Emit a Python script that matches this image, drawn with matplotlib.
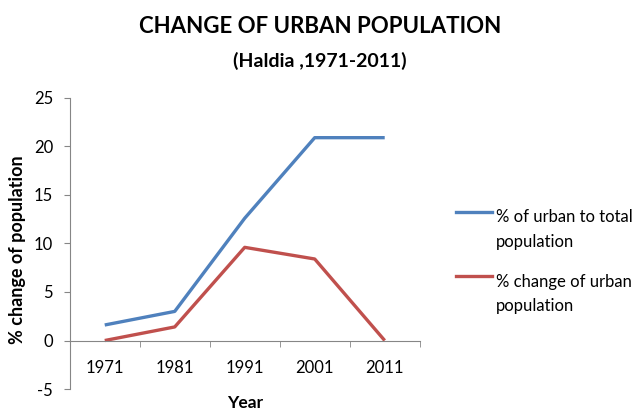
import matplotlib.pyplot as plt
from matplotlib.lines import Line2D
from matplotlib.legend_handler import HandlerLine2D

years = ["1971", "1981", "1991", "2001", "2011"]
urban_to_total = [1.6, 3.0, 12.6, 20.9, 20.9]
urban_change = [0.0, 1.4, 9.6, 8.4, 0.0]
series_names = ["% of urban to total\npopulation", "% change of urban\npopulation"]

plt.rcParams['font.family'] = ['Lato', 'DejaVu Sans']


class TopLineHandler(HandlerLine2D):
  # put the legend sample level with the first text line, like Excel
  def create_artists(self, legend, orig_handle, xdescent, ydescent, width, height, fontsize, trans):
    arts = super().create_artists(legend, orig_handle, xdescent, ydescent, width, height, fontsize, trans)
    for a in arts:
      yd = a.get_ydata()
      a.set_ydata([v + 1.1 * fontsize for v in yd])
    return arts


fig = plt.figure(figsize=(6.34, 4.13), dpi=100)
ax = fig.add_axes([0.110, 0.058, 0.552, 0.705])

x = list(range(len(years)))
ax.plot(x, urban_to_total, color='#4F81BD', lw=2.4, solid_capstyle='butt')
ax.plot(x, urban_change, color='#C0504D', lw=2.4, solid_capstyle='butt')

ax.set_xlim(-0.5, len(years) - 0.5)
ax.set_ylim(-5, 25)
ax.set_yticks([-5, 0, 5, 10, 15, 20, 25])
ax.set_yticklabels(["-5", "0", "5", "10", "15", "20", "25"])

ax.set_xticks(x)
ax.set_xticklabels(years)
ax.set_xticks([i + 0.5 for i in x], minor=True)
ax.tick_params(axis='x', which='major', length=0, labelsize=12, pad=14)
ax.tick_params(axis='x', which='minor', length=4, color='#868686')
ax.tick_params(axis='y', length=4, color='#868686', labelsize=12, pad=8)

for s in ['top', 'right']:
  ax.spines[s].set_visible(False)
ax.spines['bottom'].set_position(('data', 0))
ax.spines['bottom'].set_color('#868686')
ax.spines['left'].set_color('#868686')

ax.set_ylabel('% change of population', fontsize=13, fontweight='bold')
ax.yaxis.set_label_coords(-0.125, 0.48)
ax.set_xlabel('Year', fontsize=12.5, fontweight='bold')
ax.xaxis.set_label_coords(0.5, -0.022)

fig.text(0.505, 0.935, 'CHANGE OF URBAN POPULATION', ha='center', va='center',
         fontsize=16, fontweight='bold')
fig.text(0.505, 0.853, '(Haldia ,1971-2011)', ha='center', va='center',
         fontsize=14, fontweight='bold')

handles = [Line2D([], [], color='#4F81BD', lw=2.4), Line2D([], [], color='#C0504D', lw=2.4)]
leg = fig.legend(handles, series_names, loc='upper left', bbox_to_anchor=(0.695, 0.53),
                 frameon=False, fontsize=12, handlelength=2.2, handletextpad=0.2,
                 labelspacing=1.45, handler_map={Line2D: TopLineHandler()})
for t in leg.get_texts():
  t.set_linespacing(1.65)

fig.savefig('out.png', dpi=100)
